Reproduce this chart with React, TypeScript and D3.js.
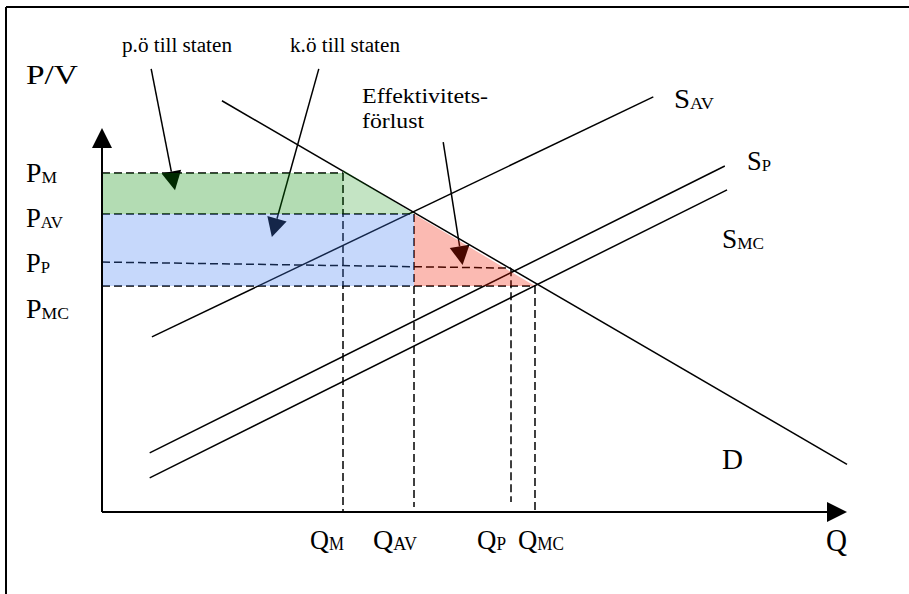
import React from "react";
import * as d3 from "d3";

// Quantities and prices marked on the axes (model units)
const quantityKeys = ["M", "AV", "P", "MC"];
const quantities = [32.35, 41.88, 54.9, 58.12];
const priceKeys = ["M", "AV", "P", "MC"];
const prices = [88.3, 77.6, 63.5, 58.85];
const pricePAtZero = 65.1;

// Demand and supply curves as line segments [q, p]
const demandLine: [number, number][] = [[16.1, 107.1], [100, 12.4]];
const supplyAV: [number, number][] = [[6.7, 45.6], [74.0, 108.1]];
const supplyP: [number, number][] = [[6.4, 15.4], [83.6, 90.1]];
const supplyMC: [number, number][] = [[6.4, 8.9], [83.9, 83.9]];

// Annotation arrows [from, to] in model units
const arrowPO: [number, number][] = [[6.6, 115.4], [9.8, 83.8]];
const arrowKO: [number, number][] = [[29.1, 115.4], [22.8, 71.6]];
const arrowEff: [number, number][] = [[45.8, 96.3], [48.4, 64.3]];

const W = 909;
const H = 594;
const FONT = "'Liberation Serif', 'Times New Roman', serif";

export default function App() {
  const x = d3.scaleLinear().domain([0, 100]).range([102, 847]);
  const y = d3.scaleLinear().domain([0, 100]).range([512, 128]);
  const line = d3
    .line<[number, number]>()
    .x((d) => x(d[0]))
    .y((d) => y(d[1]));

  const [qM, qAV, qP, qMC] = quantities;
  const [pM, pAV, pP, pMC] = prices;

  const greenRect: [number, number][] = [[0, pM], [qM, pM], [qM, pAV], [0, pAV]];
  const greenTri: [number, number][] = [[qM, pM + 0.8], [qAV, pAV], [qM, pAV]];
  const blueRect: [number, number][] = [[0, pAV], [qAV, pAV], [qAV, pMC], [0, pMC]];
  const redTri: [number, number][] = [[qAV, pAV], [qMC, pMC], [qAV, pMC]];

  const dash = "8,4";

  const arrowHead = (seg: [number, number][], len = 19, half = 10) => {
    const x1 = x(seg[0][0]), y1 = y(seg[0][1]);
    const x2 = x(seg[1][0]), y2 = y(seg[1][1]);
    const a = Math.atan2(y2 - y1, x2 - x1);
    const bx = x2 - len * Math.cos(a), by = y2 - len * Math.sin(a);
    const nx = -Math.sin(a) * half, ny = Math.cos(a) * half;
    return {
      shaft: { x1, y1, x2: bx, y2: by },
      head: `M${x2},${y2}L${bx + nx},${by + ny}L${bx - nx},${by - ny}Z`,
    };
  };

  const arrows = [arrowPO, arrowKO, arrowEff].map((s) => arrowHead(s));

  const qLabelPos = [
    { x: 310, w: 34 },
    { x: 373, w: 44 },
    { x: 477, w: 29 },
    { x: 518, w: 46 },
  ];
  const pLabelPos = [
    { y: 182, w: 31 },
    { y: 227, w: 37 },
    { y: 272, w: 24 },
    { y: 318, w: 43 },
  ];

  const subLabel = (
    main: string,
    sub: string,
    lx: number,
    ly: number,
    w: number,
    size: number,
    subSize: number,
    key?: string
  ) => (
    <text
      key={key}
      x={lx}
      y={ly}
      fontFamily={FONT}
      fontSize={size}
      textLength={w}
      lengthAdjust="spacingAndGlyphs"
      fill="#000"
    >
      {main}
      <tspan fontSize={subSize} dy={1}>
        {sub}
      </tspan>
    </text>
  );

  return (
    <svg
      width={W}
      height={H}
      style={{ position: "absolute", left: 0, top: 0, background: "#fff" }}
    >
      <rect x={0} y={0} width={W} height={H} fill="#fff" />
      {/* frame */}
      <line x1={6} y1={7} x2={W} y2={7} stroke="#000" strokeWidth={2} />
      <line x1={6} y1={7} x2={6} y2={H} stroke="#000" strokeWidth={2} />

      {/* supply and demand curves */}
      <path d={line(demandLine)!} stroke="#000" strokeWidth={1.5} fill="none" />
      <path d={line(supplyAV)!} stroke="#000" strokeWidth={1.5} fill="none" />
      <path d={line(supplyP)!} stroke="#000" strokeWidth={1.5} fill="none" />
      <path d={line(supplyMC)!} stroke="#000" strokeWidth={1.5} fill="none" />

      {/* guide lines */}
      <g stroke="#000" strokeWidth={1.5} strokeDasharray={dash} fill="none">
        <line x1={x(0)} y1={y(pM)} x2={x(qM)} y2={y(pM)} />
        <line x1={x(0)} y1={y(pAV)} x2={x(qAV)} y2={y(pAV)} />
        <line x1={x(0)} y1={y(pricePAtZero)} x2={x(qP)} y2={y(pP)} />
        <line x1={x(0)} y1={y(pMC)} x2={x(qMC)} y2={y(pMC)} />
        <line x1={x(qM)} y1={y(pM)} x2={x(qM)} y2={y(0)} />
        <line x1={x(qAV)} y1={y(pAV)} x2={x(qAV)} y2={y(1.3)} />
        <line x1={x(qP)} y1={y(pP)} x2={x(qP)} y2={y(2.6)} />
        <line x1={x(qMC)} y1={y(pMC)} x2={x(qMC)} y2={y(0)} />
      </g>

      {/* annotation arrows */}
      {arrows.map((a, i) => (
        <g key={i}>
          <line {...a.shaft} stroke="#000" strokeWidth={1.5} />
          <path d={a.head} fill="#000" />
        </g>
      ))}

      {/* shaded areas */}
      <path d={line(greenRect)! + "Z"} fill="rgb(2,138,2)" fillOpacity={0.3} />
      <path d={line(greenTri)! + "Z"} fill="rgb(2,138,2)" fillOpacity={0.23} />
      <path d={line(blueRect)! + "Z"} fill="rgb(65,125,241)" fillOpacity={0.3} />
      <path d={line(redTri)! + "Z"} fill="rgb(241,25,0)" fillOpacity={0.3} />

      {/* axes */}
      <line x1={x(0)} y1={y(0)} x2={x(0)} y2={y(0) - 364} stroke="#000" strokeWidth={2} />
      <path d={`M${x(0)},${y(100)}L${x(0) - 10},${y(100) + 20}L${x(0) + 10},${y(100) + 20}Z`} fill="#000" />
      <line x1={x(0)} y1={y(0)} x2={x(100) - 20} y2={y(0)} stroke="#000" strokeWidth={2} />
      <path d={`M${x(100)},${y(0)}L${x(100) - 20},${y(0) - 10}L${x(100) - 20},${y(0) + 10}Z`} fill="#000" />

      {/* texts */}
      <text x={122} y={52} fontFamily={FONT} fontSize={20} textLength={110} lengthAdjust="spacingAndGlyphs">
        p.ö till staten
      </text>
      <text x={290} y={52} fontFamily={FONT} fontSize={20} textLength={110} lengthAdjust="spacingAndGlyphs">
        k.ö till staten
      </text>
      <text x={26} y={84} fontFamily={FONT} fontSize={28} textLength={52} lengthAdjust="spacingAndGlyphs">
        P/V
      </text>
      <text x={362} y={103} fontFamily={FONT} fontSize={21} textLength={126} lengthAdjust="spacingAndGlyphs">
        Effektivitets-
      </text>
      <text x={362} y={128} fontFamily={FONT} fontSize={21} textLength={62} lengthAdjust="spacingAndGlyphs">
        förlust
      </text>
      {subLabel("S", "AV", 674, 108, 40, 27, 17)}
      {subLabel("S", "P", 747, 170, 24, 27, 17)}
      {subLabel("S", "MC", 722, 248, 42, 27, 17)}
      <text x={722} y={469} fontFamily={FONT} fontSize={30} textLength={21} lengthAdjust="spacingAndGlyphs">
        D
      </text>
      <text x={826} y={551} fontFamily={FONT} fontSize={32} textLength={21} lengthAdjust="spacingAndGlyphs">
        Q
      </text>
      {priceKeys.map((k, i) =>
        subLabel("P", k, 26, pLabelPos[i].y, pLabelPos[i].w, 27, 17, "p" + k)
      )}
      {quantityKeys.map((k, i) =>
        subLabel("Q", k, qLabelPos[i].x, 549, qLabelPos[i].w, 28, 18, "q" + k)
      )}
    </svg>
  );
}
